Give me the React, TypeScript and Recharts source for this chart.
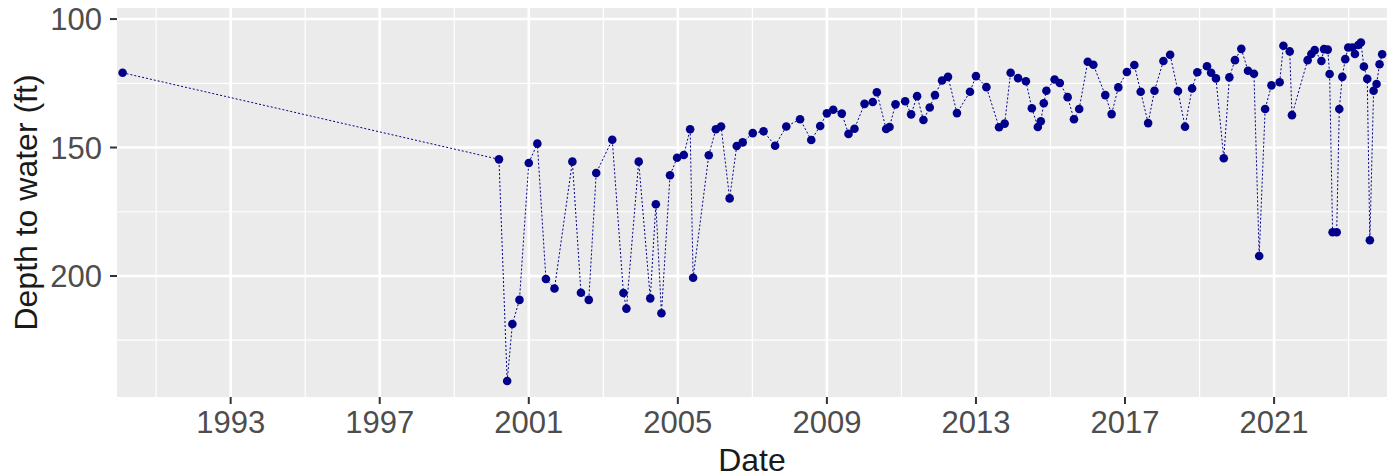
import { LineChart, Line, XAxis, YAxis, CartesianGrid } from "recharts";

// decimal year of each reading
const years = [
	1990.1, 2000.2, 2000.42, 2000.56, 2000.75, 2001.0, 2001.23, 2001.46, 2001.69, 2002.17,
	2002.4, 2002.61, 2002.81, 2003.24, 2003.54, 2003.62, 2003.95, 2004.26, 2004.41, 2004.56,
	2004.79, 2004.98, 2005.16, 2005.33, 2005.41, 2005.83, 2006.02, 2006.16, 2006.39, 2006.58,
	2006.74, 2007.01, 2007.3, 2007.61, 2007.91, 2008.28, 2008.58, 2008.82, 2009.0, 2009.17,
	2009.4, 2009.58, 2009.74, 2010.01, 2010.23, 2010.34, 2010.59, 2010.68, 2010.84, 2011.1,
	2011.26, 2011.42, 2011.59, 2011.76, 2011.9, 2012.09, 2012.25, 2012.49, 2012.84, 2013.0,
	2013.28, 2013.62, 2013.77, 2013.93, 2014.13, 2014.34, 2014.5, 2014.66, 2014.74, 2014.82,
	2014.89, 2015.11, 2015.25, 2015.46, 2015.63, 2015.77, 2016.0, 2016.15, 2016.47, 2016.64,
	2016.82, 2017.05, 2017.25, 2017.42, 2017.62, 2017.79, 2018.03, 2018.21, 2018.42, 2018.61,
	2018.8, 2018.94, 2019.2, 2019.31, 2019.44, 2019.65, 2019.8, 2019.95, 2020.12, 2020.3,
	2020.46, 2020.6, 2020.76, 2020.93, 2021.15, 2021.25, 2021.42, 2021.48, 2021.9, 2022.0,
	2022.09, 2022.27, 2022.34, 2022.44, 2022.49, 2022.57, 2022.68, 2022.75, 2022.83, 2022.91,
	2022.99, 2023.1, 2023.17, 2023.26, 2023.33, 2023.41, 2023.5, 2023.57, 2023.67, 2023.75,
	2023.83, 2023.9,
];

// depth to water (ft)
const depths = [
	120.9, 154.6, 240.9, 218.7, 209.3, 156.0, 148.5, 201.2, 204.9, 155.5,
	206.5, 209.3, 159.9, 147.0, 206.6, 212.7, 155.5, 208.7, 172.1, 214.5,
	160.8, 154.0, 152.9, 142.9, 200.7, 153.0, 142.9, 141.8, 169.8, 149.4,
	148.0, 144.4, 143.7, 149.3, 141.8, 139.0, 147.1, 141.6, 136.7, 135.3,
	136.8, 144.7, 142.7, 133.0, 132.3, 128.5, 142.8, 142.0, 133.2, 132.0,
	137.1, 130.0, 139.3, 134.4, 129.6, 123.9, 122.5, 136.6, 128.3, 122.2,
	126.5, 142.1, 140.7, 120.9, 123.0, 124.2, 134.7, 142.0, 139.8, 132.8,
	127.9, 123.5, 124.9, 130.4, 139.0, 135.0, 116.6, 117.8, 129.6, 137.0,
	126.6, 120.6, 117.9, 128.3, 140.5, 127.9, 116.3, 113.9, 128.0, 141.9,
	127.0, 120.7, 118.4, 120.9, 123.1, 154.2, 122.7, 116.0, 111.6, 120.1,
	121.3, 192.2, 135.0, 125.8, 124.6, 110.4, 112.6, 137.4, 116.0, 113.6,
	112.1, 116.3, 111.7, 111.9, 121.4, 183.0, 183.0, 135.0, 122.5, 115.6,
	111.1, 111.1, 113.6, 110.1, 109.1, 118.5, 123.3, 186.1, 127.9, 125.3,
	117.6, 113.7,
];

const xTicks = [1993, 1997, 2001, 2005, 2009, 2013, 2017, 2021];
const xMinor = [1991, 1995, 1999, 2003, 2007, 2011, 2015, 2019, 2023];
const yTicks = [100, 150, 200];
const yMinor = [125, 175, 225];

const data = years.map((y, i) => ({ date: y, depth: depths[i] }));

const FONT = '"Liberation Sans", Arial, Helvetica, sans-serif';
const NAVY = "#00008B";

export default function App() {
	return (
		<div style={{ position: "absolute", left: 0, top: 0, fontFamily: FONT }}>
			<LineChart
				width={1387}
				height={476}
				data={data}
				margin={{ top: 8, right: 0, bottom: 0, left: 0 }}
			>
				{/* minor grid + panel background */}
				<CartesianGrid
					fill="#EBEBEB"
					stroke="#FFFFFF"
					strokeWidth={1.2}
					horizontalValues={yMinor}
					verticalValues={xMinor}
				/>
				{/* major grid */}
				<CartesianGrid
					stroke="#FFFFFF"
					strokeWidth={2.6}
					horizontalValues={yTicks}
					verticalValues={xTicks}
				/>
				<XAxis
					dataKey="date"
					type="number"
					domain={[1989.95, 2024.03]}
					allowDataOverflow
					ticks={xTicks}
					interval={0}
					height={79}
					axisLine={false}
					tickSize={7}
					tickMargin={7}
					tickLine={{ stroke: "#333333", strokeWidth: 2 }}
					tick={{ fill: "#4D4D4D", fontSize: 31, fontFamily: FONT }}
					label={{
						value: "Date",
						position: "insideBottom",
						offset: 5,
						fill: "#1A1A1A",
						fontSize: 32,
						fontFamily: FONT,
					}}
				/>
				<YAxis
					type="number"
					reversed
					domain={[95.7, 247.1]}
					allowDataOverflow
					ticks={yTicks}
					interval={0}
					width={117}
					axisLine={false}
					tickSize={7}
					tickMargin={8}
					tickLine={{ stroke: "#333333", strokeWidth: 2 }}
					tick={{ fill: "#4D4D4D", fontSize: 31, fontFamily: FONT }}
					label={{
						value: "Depth to water (ft)",
						angle: -90,
						position: "insideLeft",
						offset: 26,
						textAnchor: "middle",
						fill: "#1A1A1A",
						fontSize: 32,
						fontFamily: FONT,
					}}
				/>
				<Line
					dataKey="depth"
					type="linear"
					stroke={NAVY}
					strokeWidth={1}
					strokeDasharray="2 2"
					dot={{ r: 4.3, fill: NAVY, stroke: "none" }}
					activeDot={false}
					isAnimationActive={false}
				/>
			</LineChart>
		</div>
	);
}
